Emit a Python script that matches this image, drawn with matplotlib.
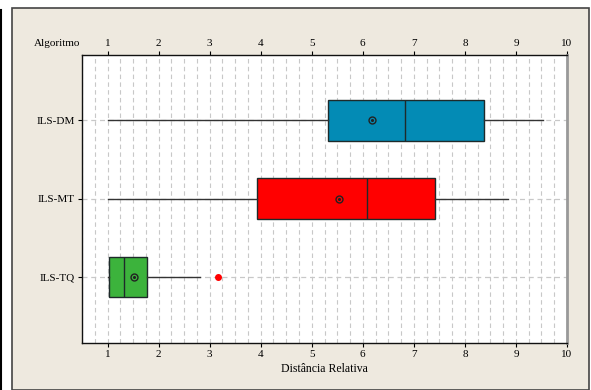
import numpy as np
import matplotlib
matplotlib.use("Agg")
import matplotlib.pyplot as plt
import matplotlib.patches as patches
from matplotlib.lines import Line2D
from matplotlib.ticker import MultipleLocator

# box statistics per algorithm (bottom to top)
algoritmos = ["ILS-TQ", "ILS-MT", "ILS-DM"]
minimos = [1.0, 1.0, 1.0]
q1 = [1.03, 3.92, 5.31]
medianas = [1.33, 6.09, 6.83]
q3 = [1.77, 7.41, 8.38]
maximos = [2.82, 8.84, 9.53]
medias = [1.52, 5.54, 6.18]
outliers = [[3.16], [], []]
cores = ["#3cb33c", "#ff0000", "#038bb5"]
xticks = list(range(1, 11))

plt.rcParams['font.family'] = ['Liberation Serif', 'DejaVu Serif']

W, H = 591, 390
fig = plt.figure(figsize=(W / 100, H / 100), dpi=100)
fig.patch.set_facecolor("white")

# beige panel with dark border behind the chart
fig.patches.append(patches.Rectangle((12 / W, 0), 1 - 14 / W, 1 - 8 / H,
                                     transform=fig.transFigure,
                                     facecolor="#eee9df", edgecolor="#444444",
                                     linewidth=1.2, zorder=-2))
fig.lines.append(Line2D([1.5 / W, 1.5 / W], [0, 1 - 10 / H],
                        transform=fig.transFigure, color="black", lw=1.5,
                        zorder=-2))

ax = fig.add_axes([82 / W, 1 - 343 / H, (567 - 82) / W, (343 - 55) / H])
ax.set_zorder(1)
ax.set_facecolor("white")

stats = []
for i in range(len(algoritmos)):
    stats.append(dict(label=algoritmos[i], whislo=minimos[i], q1=q1[i],
                      med=medianas[i], q3=q3[i], whishi=maximos[i],
                      mean=medias[i], fliers=outliers[i]))

pos = np.arange(1, len(algoritmos) + 1)
bp = ax.bxp(stats, positions=pos, vert=False, widths=0.52, patch_artist=True,
            showmeans=True, showcaps=False,
            boxprops=dict(edgecolor="#1e2a2a", linewidth=1.0),
            medianprops=dict(color="#1e2a2a", linewidth=1.0),
            whiskerprops=dict(color="#333333", linewidth=1.0),
            meanprops=dict(marker="o", markersize=5, markerfacecolor="none",
                           markeredgecolor="#222222", markeredgewidth=1.0),
            flierprops=dict(marker="o", markersize=4, markerfacecolor="red",
                            markeredgecolor="red"))
for patch, c in zip(bp["boxes"], cores):
    patch.set_facecolor(c)
    patch.set_zorder(3)
for k in ("medians", "whiskers", "means", "fliers"):
    for art in bp[k]:
        art.set_zorder(4)
# dot in the centre of the mean marker
ax.plot(medias, pos, linestyle="none", marker="o", markersize=1.2,
        color="#222222", zorder=5)

ax.set_xlim(0.5, 10.0)
ax.set_ylim(0.16, 3.83)
ax.set_xticks(xticks)
ax.xaxis.set_minor_locator(MultipleLocator(0.25))
ax.set_yticks(pos)
ax.set_yticklabels(algoritmos)

ax.grid(True, which="minor", axis="x", color="#c8c8c8", linestyle=(0, (4, 3)), lw=0.8)
ax.grid(True, which="major", axis="x", color="#c8c8c8", linestyle=(0, (4, 3)), lw=0.8)
ax.grid(True, which="major", axis="y", color="#c8c8c8", linestyle=(0, (4, 3)), lw=0.9)
ax.set_axisbelow(True)

ax.tick_params(axis="x", which="major", top=True, labeltop=True, bottom=True,
               labelbottom=True, direction="out", length=3, width=0.8,
               labelsize=8, pad=2, colors="black")
ax.tick_params(axis="x", which="minor", length=0)
ax.tick_params(axis="y", direction="out", length=3, width=0.8, labelsize=8, pad=2)

for s in ("left", "top", "bottom"):
    ax.spines[s].set_color("#111111")
    ax.spines[s].set_linewidth(1.0)
ax.spines["right"].set_color("#999999")
ax.spines["right"].set_linewidth(2.0)

ax.set_xlabel("Distância Relativa", fontsize=8.5, labelpad=3)
fig.text(57 / W, 1 - 44 / H, "Algoritmo", fontsize=8, ha="center", va="center")

fig.savefig("out.png", dpi=100)
